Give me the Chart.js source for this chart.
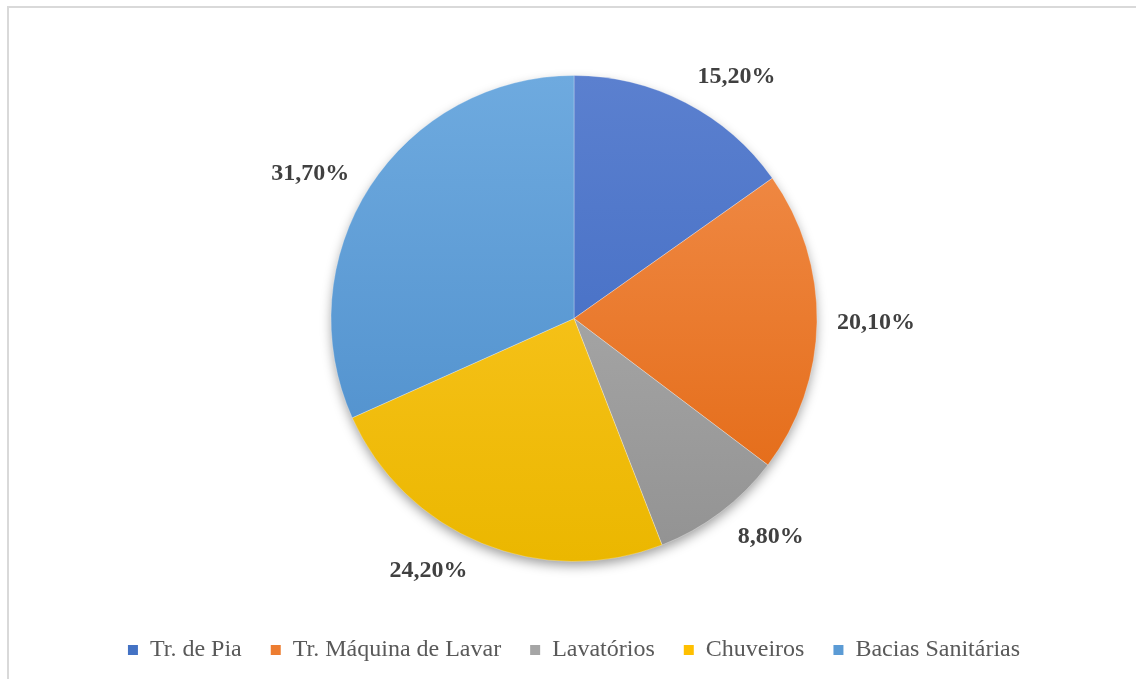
<!DOCTYPE html>
<html lang="pt">
<head>
<meta charset="utf-8">
<title>Consumo de água por ponto de utilização</title>
<script src="https://cdn.jsdelivr.net/npm/chart.js@4.4.1/dist/chart.umd.min.js"></script>
<style>
  html, body { margin: 0; padding: 0; background: #fff; overflow: hidden; width: 1136px; height: 679px; }
  #moldura { position: absolute; left: 7px; top: 6px; width: 1129px; height: 673px; border-left: 2px solid #d9d9d9; border-top: 2px solid #d9d9d9; box-sizing: border-box; }
  #caixa { position: absolute; left: 0; top: 0; width: 1136px; height: 679px; }
</style>
</head>
<body>
<div id="moldura"></div>
<div id="caixa"><canvas id="grafico" width="1136" height="679"></canvas></div>
<script>
// dados
const categorias = ['Tr. de Pia', 'Tr. Máquina de Lavar', 'Lavatórios', 'Chuveiros', 'Bacias Sanitárias'];
const percentuais = [15.2, 20.1, 8.8, 24.2, 31.7];

// cores (topo claro -> base escura, estilo Office)
const corBase = ['#4472c4', '#ed7d31', '#a5a5a5', '#ffc000', '#5b9bd5'];
const corTopo = ['#5b80cf', '#f2904f', '#b5b5b5', '#ffca2e', '#6eaadf'];
const corFundo = ['#3a66c0', '#e2660f', '#929292', '#ebb700', '#4a8bc9'];

const RAIO = 243;
const fonteSerif = '"Liberation Serif", "Times New Roman", serif';

// ajuste fino da posição dos rótulos (graus e distância além do raio)
const ajusteRotulo = [
  { ang: 6.6, dist: 48 },
  { ang: 0, dist: 59 },
  { ang: -4.9, dist: 51 },
  { ang: 7.7, dist: 48 },
  { ang: -4.1, dist: 58 }
];

function preenchimento(ctx) {
  const chart = ctx.chart;
  const area = chart.chartArea;
  const i = ctx.dataIndex;
  if (!area) return corBase[i];
  const cy = (area.top + area.bottom) / 2;
  const g = chart.ctx.createLinearGradient(0, cy - RAIO, 0, cy + RAIO);
  g.addColorStop(0, corTopo[i]);
  g.addColorStop(1, corFundo[i]);
  return g;
}

// sombra suave por baixo da pizza
const sombra = {
  id: 'sombra',
  beforeDatasetsDraw(chart) {
    const arco = chart.getDatasetMeta(0).data[0];
    if (!arco) return;
    const c = chart.ctx;
    c.save();
    c.shadowColor = 'rgba(0,0,0,0.4)';
    c.shadowBlur = 12;
    c.shadowOffsetY = 5;
    c.fillStyle = '#ffffff';
    c.beginPath();
    c.arc(arco.x, arco.y, arco.outerRadius - 1, 0, Math.PI * 2);
    c.fill();
    c.restore();
  }
};

// rótulos de porcentagem fora das fatias
const rotulos = {
  id: 'rotulos',
  afterDatasetsDraw(chart) {
    const c = chart.ctx;
    const meta = chart.getDatasetMeta(0);
    c.save();
    c.font = 'bold 24px ' + fonteSerif;
    c.fillStyle = '#404040';
    c.textAlign = 'center';
    c.textBaseline = 'middle';
    meta.data.forEach((arco, i) => {
      const aj = ajusteRotulo[i];
      const meio = (arco.startAngle + arco.endAngle) / 2 + aj.ang * Math.PI / 180;
      const d = arco.outerRadius + aj.dist;
      const x = arco.x + Math.cos(meio) * d;
      const y = arco.y + Math.sin(meio) * d;
      const texto = percentuais[i].toFixed(2).replace('.', ',') + '%';
      c.fillText(texto, x, y);
    });
    c.restore();
  }
};

const grafico = new Chart(document.getElementById('grafico'), {
  type: 'pie',
  data: {
    labels: categorias,
    datasets: [{
      data: percentuais,
      backgroundColor: preenchimento,
      borderColor: 'rgba(255,255,255,0.45)',
      borderWidth: 0.6,
      radius: RAIO
    }]
  },
  options: {
    responsive: false,
    animation: false,
    layout: { padding: { top: 28, bottom: 7, left: 12, right: 0 } },
    plugins: {
      tooltip: { enabled: false },
      legend: {
        position: 'bottom',
        labels: {
          boxWidth: 10,
          boxHeight: 10,
          padding: 29,
          color: '#595959',
          font: { family: fonteSerif, size: 24 },
          generateLabels(chart) {
            return categorias.map((nome, i) => ({
              text: nome,
              fillStyle: corBase[i],
              strokeStyle: corBase[i],
              lineWidth: 0,
              fontColor: '#595959',
              hidden: false,
              index: i
            }));
          }
        }
      }
    }
  },
  plugins: [sombra, rotulos]
});
</script>
</body>
</html>
